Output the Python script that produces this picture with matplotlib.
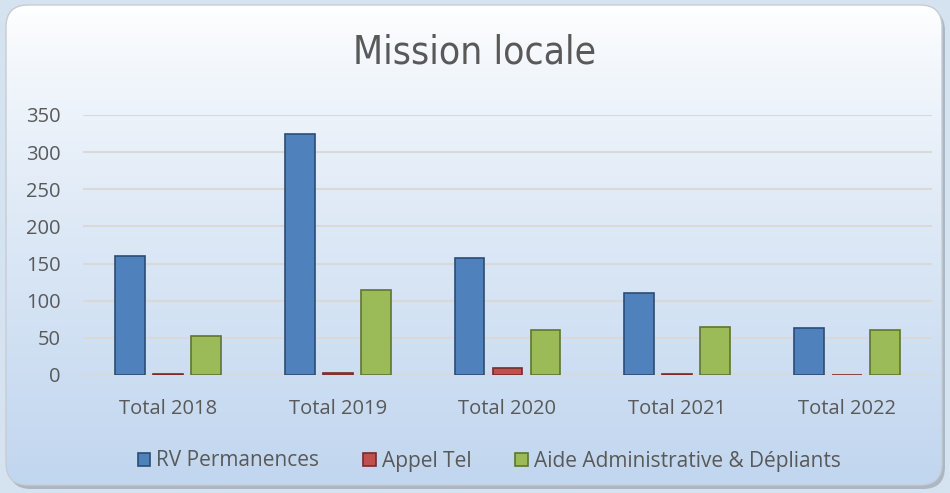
import matplotlib
matplotlib.use("Agg")
import matplotlib.pyplot as plt
import numpy as np
from matplotlib.patches import FancyBboxPatch

categories = ["Total 2018", "Total 2019", "Total 2020", "Total 2021", "Total 2022"]
rv_permanences = [160, 324, 157, 110, 63]
appel_tel = [2, 3, 9, 2, 0.5]
aide_admin = [52, 114, 60, 64, 60]
series_names = ["RV Permanences", "Appel Tel", "Aide Administrative & Dépliants"]
yticks = [0, 50, 100, 150, 200, 250, 300, 350]

colors = ["#4f81bd", "#c0504d", "#9bbb59"]
edges = ["#2c4d75", "#772c2a", "#5f7530"]

text_font = "Open Sans"
txt_color = "#595959"

fig = plt.figure(figsize=(9.5, 4.93), dpi=100)
fig.patch.set_facecolor("#d5e2f0")

# background panel with gradient
bg = fig.add_axes([0, 0, 1, 1], zorder=-5)
bg.set_xlim(0, 950)
bg.set_ylim(493, 0)
bg.axis("off")
shadow = FancyBboxPatch((9, 9), 936, 480, boxstyle="round,pad=0,rounding_size=22",
                        facecolor="#9aa6b3", edgecolor="none", alpha=0.7, zorder=0)
bg.add_patch(shadow)
box = FancyBboxPatch((6, 5), 936, 480, boxstyle="round,pad=0,rounding_size=22",
                     facecolor="none", edgecolor="#c8ccd2", linewidth=1.0, zorder=3)
bg.add_patch(box)
grad = np.linspace(0, 1, 256).reshape(-1, 1) ** 0.8
top = np.array([1.0, 1.0, 1.0])
bot = np.array([193, 214, 239]) / 255.0
img = top[None, None, :] * (1 - grad[:, :, None]) + bot[None, None, :] * grad[:, :, None]
im = bg.imshow(img, extent=(6, 942, 485, 5), aspect="auto", zorder=2)
im.set_clip_path(box)

ax = fig.add_axes([83 / 950, 1 - 375 / 493, (932 - 83) / 950, (375 - 115) / 493])
ax.set_facecolor("none")
x = np.arange(len(categories))
w = 0.176
off = 0.224
for i, (vals, name) in enumerate(zip([rv_permanences, appel_tel, aide_admin], series_names)):
    ax.bar(x + (i - 1) * off, vals, width=w, color=colors[i], edgecolor=edges[i],
           linewidth=1.2, label=name, zorder=3)

ax.set_xlim(-0.5, len(categories) - 0.5)
ax.set_ylim(0, 350)
ax.set_yticks(yticks)
ax.set_yticklabels([str(v) for v in yticks])
ax.set_xticks(x)
ax.set_xticklabels(categories)
ax.grid(axis="y", color="#d9d9d9", linewidth=1.5, zorder=0)
for s in ["top", "right", "left"]:
    ax.spines[s].set_visible(False)
ax.spines["bottom"].set_color("#d9d9d9")
ax.spines["bottom"].set_linewidth(1.5)
ax.tick_params(axis="both", length=0, colors=txt_color, labelsize=14.5)
ax.tick_params(axis="y", pad=16)
ax.tick_params(axis="x", pad=17)
for lab in ax.get_xticklabels() + ax.get_yticklabels():
    lab.set_fontfamily(text_font)

fig.text(0.5, 1 - 52 / 493, "Mission locale", ha="center", va="center",
         fontsize=28, color=txt_color, family="DejaVu Sans", fontstretch="condensed")

leg = fig.legend(loc="center", bbox_to_anchor=(0.515, 1 - 461 / 493), ncol=3,
                 frameon=False, handlelength=0.6, handleheight=0.6, handletextpad=0.3,
                 columnspacing=2.1, prop={"family": text_font, "size": 15})
for t in leg.get_texts():
    t.set_color(txt_color)

fig.savefig("out.png", dpi=100, facecolor=fig.get_facecolor())
